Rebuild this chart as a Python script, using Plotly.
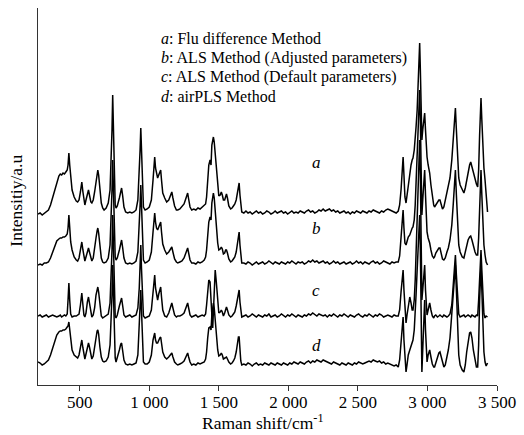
import plotly.graph_objects as go

# ---- wavenumber grids (cm-1) ----
X_LOW = [200,215,230,245,260,275,290,305,320,335,
         350,360,370,380,390,400,410,416,422,428,
         435,445,460,475,485,495,505,515,523,530,
         537,545,555,563,570,580,587,597,607,617,
         625,630,636,645,655,665,675,690,705,718,
         726,732,737,742,748,755,761,770,785,795,
         801,808,818,830,845,860,875,890,905,918,
         928,934,939,944,950,958,970,985,1000,1015,
         1027,1034,1039,1045,1052,1060,1068,1076,1082,1088,
         1097,1111,1125,1140,1152,1162,1170,1182,1195,1205,
         1220,1235,1250,1262,1270,1276,1283,1293,1305,1320,
         1335,1350,1365,1380,1395,1405,1412,1420,1428,1437,
         1444,1450,1456,1461,1467,1474,1482,1492,1500,1510,
         1518,1525,1533,1542,1549,1555,1562,1572,1585,1595,
         1605,1615,1625,1635,1641,1646,1652,1658,1665]
X_FLAT = list(range(1680, 2790, 15))
X_HIGH = [2790,2800,2810,2818,2825,2831,2838,2846,2853,2862,
          2873,2882,2890,2896,2905,2912,2918,2926,2933,2939,
          2944,2949,2955,2960,2966,2972,2980,2986,2992,2997,
          3005,3016,3025,3035,3045,3051,3060,3072,3082,3090,
          3098,3108,3118,3128,3140,3150,3162,3175,3185,3193,
          3201,3208,3216,3225,3235,3250,3262,3272,3282,3292,
          3303,3311,3320,3330,3342,3352,3361,3368,3375,3380,
          3385,3391,3398,3406,3414,3422,3432]

# ---- a: Flu difference method ----
A_LOW = [171,172,170,172,173,175,180,187,195,203,
         209,211,210,212,211,213,215,220,232,220,
         205,195,188,184,183,185,193,203,193,184,
         180,185,192,195,190,183,182,185,193,205,
         213,215,210,195,182,177,175,177,182,195,
         220,255,290,260,210,180,177,179,187,195,
         197,190,178,173,172,173,172,173,175,185,
         210,235,257,230,195,178,175,176,178,185,
         205,223,228,217,210,207,210,213,215,205,
         192,187,183,185,189,193,187,179,175,175,
         176,178,181,186,190,192,186,178,175,176,
         175,177,176,178,179,181,188,205,220,225,
         220,240,248,248,243,230,215,197,189,190,
         193,190,185,185,189,191,187,179,176,177,
         179,181,185,193,202,202,190,177,173]
A_FLAT = [172,174,172,173,171,173,174,172,173,171,
          172,174,173,171,172,174,172,173,174,172,
          173,171,173,174,172,173,172,174,173,172,
          174,175,173,174,172,173,175,174,176,174,
          175,176,174,175,173,174,172,173,174,172,
          173,171,173,172,174,173,172,174,173,172,
          174,173,175,174,173,172,174,173,175,176,
          175,174,173,172]
A_HIGH = [174,180,195,215,228,210,188,182,190,203,
          212,220,225,227,235,245,258,275,300,325,
          342,315,265,245,255,265,272,255,235,228,
          220,212,200,188,180,178,180,183,185,185,
          181,176,178,185,193,197,207,225,245,265,
          277,255,225,207,200,195,192,197,205,213,
          220,223,218,212,205,201,198,215,250,275,
          287,265,235,217,205,190,173]

# ---- b: ALS (adjusted parameters) ----
B_LOW = [120,121,120,122,122,123,127,133,139,144,
         146,147,147,148,148,149,151,157,170,157,
         143,135,128,125,124,127,135,143,135,127,
         124,128,135,137,133,126,124,127,135,147,
         154,157,152,139,127,123,122,123,127,140,
         165,195,225,195,153,128,125,127,135,142,
         145,138,127,122,121,122,121,122,124,133,
         155,180,200,175,140,125,122,123,125,133,
         153,168,172,163,157,155,158,161,163,153,
         141,135,131,133,136,138,133,126,123,122,
         123,124,127,132,135,137,132,125,122,122,
         121,123,122,123,125,128,135,150,163,168,
         165,182,190,192,187,173,157,142,135,136,
         138,136,131,132,135,135,132,126,123,124,
         126,128,133,143,152,153,140,127,122]
B_FLAT = [122,121,123,122,120,122,123,121,122,123,
          121,122,124,122,121,123,122,121,123,122,
          121,123,122,124,122,121,123,122,123,121,
          122,124,123,125,123,124,122,123,124,122,
          123,121,122,124,122,123,121,122,123,121,
          122,123,121,122,124,122,123,121,123,122,
          121,123,124,122,123,121,122,124,123,122,
          121,123,122,123]
B_HIGH = [123,129,145,163,175,157,142,140,145,148,
          150,155,157,158,165,180,205,235,265,285,
          295,265,205,170,185,200,215,190,165,153,
          147,142,135,129,127,128,132,135,137,137,
          133,126,125,127,133,137,145,160,180,200,
          215,190,160,140,133,128,127,133,140,145,
          148,149,145,138,133,130,130,147,180,205,
          215,190,160,140,130,123,120]

# ---- c: ALS (default parameters) ----
C_LOW = [69,70,68,69,70,68,69,70,69,68,
         69,70,68,69,70,69,71,85,102,85,
         71,68,69,69,70,71,80,92,80,70,
         68,72,83,88,82,71,68,70,77,90,
         97,98,93,79,69,67,68,69,71,82,
         105,135,170,135,93,69,67,70,79,86,
         87,80,70,68,69,70,68,69,70,77,
         97,120,140,117,85,69,67,68,69,75,
         95,107,110,97,89,85,91,96,98,88,
         75,69,68,72,79,82,77,70,68,69,
         69,70,72,77,81,82,77,70,68,69,
         70,68,69,70,69,71,80,95,105,103,
         90,70,57,73,100,115,103,80,72,73,
         75,73,69,72,76,78,75,70,68,69,
         71,73,79,89,95,95,83,72,68]
C_FLAT = [69,70,68,69,71,69,68,70,69,68,
          70,69,71,68,69,70,68,69,71,69,
          68,70,69,71,69,68,70,69,68,70,
          69,71,70,72,70,69,71,70,69,70,
          68,70,69,71,69,68,70,69,71,69,
          68,70,69,68,70,71,69,68,70,69,
          71,69,68,70,69,71,70,68,69,70,
          69,68,70,69]
C_HIGH = [69,75,93,107,115,95,73,62,70,80,
          88,82,75,75,85,105,135,170,205,235,
          245,210,145,85,95,110,120,95,75,70,
          75,82,75,69,67,69,70,68,69,70,
          69,68,70,69,68,69,71,80,100,120,
          130,110,85,71,68,69,70,68,69,70,
          69,68,70,69,68,70,69,85,115,130,
          135,115,85,71,67,69,68]

# ---- d: airPLS ----
D_LOW = [23,22,20,21,23,25,30,37,44,50,
         53,54,54,55,55,56,58,59,63,55,
         43,35,30,28,27,30,37,45,37,29,
         26,31,39,42,38,29,26,29,37,49,
         54,55,51,38,28,24,23,24,28,40,
         65,90,120,95,53,27,23,27,35,41,
         42,35,25,21,20,21,20,21,22,30,
         55,80,95,75,40,23,21,21,23,30,
         45,50,52,45,42,42,45,47,48,40,
         33,28,26,28,30,32,28,23,21,20,
         21,22,24,28,31,32,28,23,20,21,
         20,22,21,22,23,26,33,47,57,58,
         55,70,80,82,77,63,48,35,29,30,
         32,30,26,27,28,28,26,23,21,22,
         24,27,33,43,48,48,35,24,20]
D_FLAT = [21,20,22,21,19,21,22,20,21,20,
          22,21,20,22,21,20,22,21,20,22,
          21,20,22,21,23,22,21,23,22,21,
          23,24,22,24,23,25,24,23,25,24,
          23,22,21,23,22,21,20,22,21,20,
          22,21,20,22,21,23,22,21,22,23,
          24,23,25,24,23,24,22,23,21,22,
          21,20,19,20]
D_HIGH = [18,25,42,58,68,45,22,13,20,30,
          35,40,43,45,55,70,90,115,140,160,
          170,135,65,13,35,65,85,55,30,23,
          30,35,28,21,18,18,22,28,32,33,
          29,22,18,20,27,35,47,70,90,110,
          120,95,55,30,20,15,13,20,33,45,
          52,53,47,35,23,18,18,40,85,110,
          120,95,55,33,23,19,22]

LEGEND_LINES = ["<i>a</i>: Flu difference Method",
                "<i>b</i>: ALS Method (Adjusted parameters)",
                "<i>c</i>: ALS Method (Default parameters)",
                "<i>d</i>: airPLS Method"]
CURVE_LABELS = ["a", "b", "c", "d"]
TICK_VALS = [500, 1000, 1500, 2000, 2500, 3000, 3500]
TICK_TEXT = ["500", "1 000", "1 500", "2 000", "2 500", "3 000", "3 500"]

X_ALL = X_LOW + X_FLAT + X_HIGH
SERIES = [A_LOW + A_FLAT + A_HIGH,
          B_LOW + B_FLAT + B_HIGH,
          C_LOW + C_FLAT + C_HIGH,
          D_LOW + D_FLAT + D_HIGH]

SERIF = "Liberation Serif, Times New Roman, serif"

fig = go.Figure()
for name, ys in zip(CURVE_LABELS, SERIES):
    assert len(ys) == len(X_ALL), (name, len(ys), len(X_ALL))
    fig.add_trace(go.Scatter(x=X_ALL, y=ys, mode="lines", name=name,
                             line=dict(color="black", width=1.5),
                             showlegend=False))

annotations = []
legend_y = [347, 327, 308, 289]
for txt, yv in zip(LEGEND_LINES, legend_y):
    annotations.append(dict(x=1071, y=yv, xref="x", yref="y", text=txt,
                            showarrow=False, xanchor="left", yanchor="middle",
                            font=dict(family=SERIF, size=16, color="black")))
label_y = [223, 157, 95, 40]
for lab, yv in zip(CURVE_LABELS, label_y):
    annotations.append(dict(x=2200, y=yv, xref="x", yref="y", text=f"<i>{lab}</i>",
                            showarrow=False, xanchor="center", yanchor="middle",
                            font=dict(family=SERIF, size=17, color="black")))
annotations.append(dict(x=-0.047, y=0.49, xref="paper", yref="paper",
                        text="Intensitiy/a.u", textangle=-90, showarrow=False,
                        xanchor="center", yanchor="middle",
                        font=dict(family=SERIF, size=17.5, color="black")))
annotations.append(dict(x=0.49, y=-0.097, xref="paper", yref="paper",
                        text="Raman shift/cm<sup>-1</sup>", showarrow=False,
                        xanchor="center", yanchor="middle",
                        font=dict(family=SERIF, size=17.5, color="black")))

fig.update_layout(
    width=524, height=435,
    margin=dict(l=38, r=24, t=8, b=50),
    paper_bgcolor="white", plot_bgcolor="white",
    annotations=annotations,
    xaxis=dict(range=[200, 3500], showgrid=False, zeroline=False,
               showline=True, linecolor="#333333", linewidth=1.3,
               ticks="outside", ticklen=5, tickwidth=1.2, tickcolor="#333333",
               ticklabelstandoff=-4,
               tickvals=TICK_VALS, ticktext=TICK_TEXT,
               tickfont=dict(family=SERIF, size=17, color="black")),
    yaxis=dict(range=[0, 377], showgrid=False, zeroline=False,
               showline=True, linecolor="#333333", linewidth=1.3,
               showticklabels=False, ticks=""),
)

fig.write_html("out.html",
               config={"displayModeBar": False},
               post_script="document.body.style.margin='0';"
                           "document.body.style.overflow='hidden';")
